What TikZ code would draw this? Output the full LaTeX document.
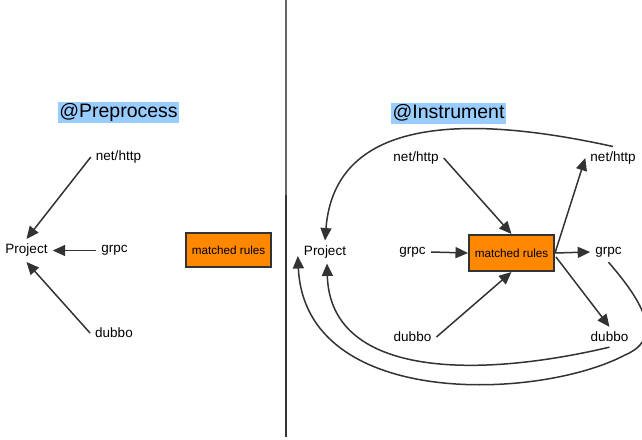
\documentclass[tikz,border=0pt]{standalone}
\usepackage{fontspec}
\setmainfont{Liberation Sans}
\usetikzlibrary{arrows.meta,calc}
\definecolor{ink}{HTML}{333333}
\definecolor{hl}{HTML}{99CCFF}
\definecolor{orng}{HTML}{FF8800}
\tikzset{
  lbl/.style={inner sep=5pt, font=\fontsize{13.5}{15}\selectfont, text=black},
  title/.style={fill=hl, inner sep=1.5pt, font=\fontsize{19.5}{22}\selectfont, text height=14pt, text depth=4pt},
  rulebox/.style={draw=ink, line width=2pt, fill=orng, minimum width=85pt, inner sep=0pt, font=\fontsize{11.7}{13}\selectfont},
  conn/.style={draw=ink, line width=1.5pt, -{Triangle[length=12.5pt,width=11pt]}},
}
\begin{document}
\begin{tikzpicture}[x=1pt,y=-1pt]
\useasboundingbox (0,0) rectangle (642,439);
% divider
\draw[line width=1.5pt, color=black!60] (286,0) -- (286,195);
\draw[line width=1.5pt, color=ink] (286,195) -- (286,437);

% left panel
\node[title] (preL) at (118.5,112.5) {@Preprocess};
\node[lbl] (projL) at (26.5,250.5) {Project};
\node[lbl] (httpL) at (118.5,157) {net/http};
\node[lbl] (grpcL) at (114.5,250.5) {grpc};
\node[lbl] (dubboL) at (114,333) {dubbo};
\node[rulebox, minimum height=34pt] (ruleL) at (228.5,250) {matched rules};

\draw[conn] (httpL.west) -- (projL.north);
\draw[conn] (grpcL.west) -- (projL.east);
\draw[conn] (dubboL.west) -- (projL.south);

% right panel
\node[title] (preR) at (448.5,113) {@Instrument};
\node[lbl] (projR) at (325,252) {Project};
\node[lbl] (httpR1) at (416,158) {net/http};
\node[lbl] (grpcR1) at (412.5,252) {grpc};
\node[lbl] (dubboR1) at (412.5,337) {dubbo};
\node[rulebox, minimum height=36pt] (ruleR) at (511.5,253) {matched rules};
\node[lbl] (httpR2) at (613,158) {net/http};
\node[lbl] (grpcR2) at (608.5,252) {grpc};
\node[lbl] (dubboR2) at (609.5,337) {dubbo};

\draw[conn] (httpR1.east) -- (ruleR.north);
\draw[conn] (grpcR1.east) -- (ruleR.west);
\draw[conn] (dubboR1.east) -- (ruleR.south);
\draw[conn] (ruleR.east) -- (httpR2.west);
\draw[conn] (ruleR.east) -- (grpcR2.west);
\draw[conn] ($(ruleR.east)+(1,4)$) -- (dubboR2.north);

% feedback curves
\draw[conn] (httpR2.north) .. controls (470,115) and (335,115) .. (projR.north);
\draw[conn] (grpcR2.south) .. controls (650,310) and (660,340) .. (625,355)
   .. controls (540,400) and (305,410) .. ($(projR.west)+(-1,4)$);
\draw[conn] (dubboR2.south) .. controls (470,380) and (330,375) .. ($(projR.south)+(2,0)$);
\end{tikzpicture}
\end{document}
